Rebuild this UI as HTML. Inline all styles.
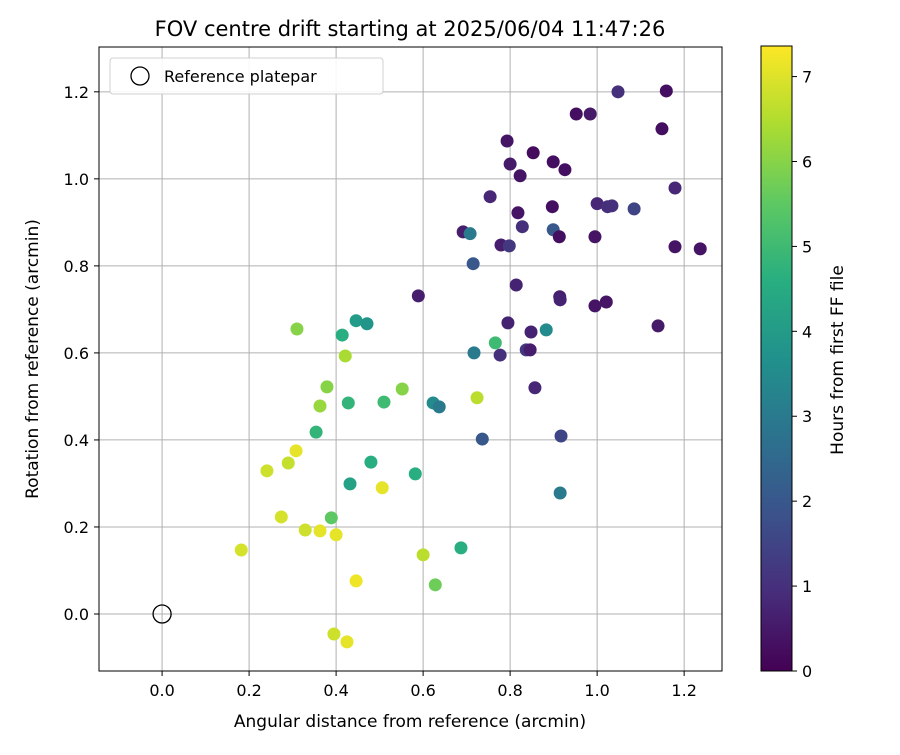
<!DOCTYPE html>
<html><head><meta charset="utf-8">
<style>
body{margin:0;background:#fff;}
svg text{font-family:"DejaVu Sans","Liberation Sans",sans-serif;fill:#000;}
</style></head>
<body>
<svg id="chart" width="900" height="750" xmlns="http://www.w3.org/2000/svg">
  <rect x="0" y="0" width="900" height="750" fill="#fff"/>
  <defs>
    <linearGradient id="vir" x1="0" y1="1" x2="0" y2="0">
      <stop offset="0" stop-color="#440154"/>
      <stop offset="0.125" stop-color="#472d7b"/>
      <stop offset="0.25" stop-color="#3b528b"/>
      <stop offset="0.375" stop-color="#2c728e"/>
      <stop offset="0.5" stop-color="#21918c"/>
      <stop offset="0.625" stop-color="#28ae80"/>
      <stop offset="0.75" stop-color="#5ec962"/>
      <stop offset="0.875" stop-color="#addc30"/>
      <stop offset="1" stop-color="#fde725"/>
    </linearGradient>
  </defs>
  <g id="grid"></g>
  <g id="points"></g>
  <rect x="99" y="47" width="623" height="624" fill="none" stroke="#000" stroke-width="1"/>
  <g id="xticks"></g>
  <g id="yticks"></g>
  <text x="410" y="36" font-size="21" text-anchor="middle">FOV centre drift starting at 2025/06/04 11:47:26</text>
  <text x="410" y="727" font-size="17" text-anchor="middle">Angular distance from reference (arcmin)</text>
  <text transform="translate(38,359) rotate(-90)" font-size="17" text-anchor="middle">Rotation from reference (arcmin)</text>
  <g>
    <rect x="110" y="58" width="273" height="36" rx="3" fill="#fff" stroke="#ccc" opacity="0.9"/>
    <circle cx="140" cy="76" r="9" fill="none" stroke="#000" stroke-width="1.3"/>
    <text x="164" y="82" font-size="16">Reference platepar</text>
  </g>
  <rect x="761" y="46" width="31" height="625" fill="url(#vir)" stroke="#000" stroke-width="1"/>
  <g id="cticks"></g>
  <text transform="translate(843,360) rotate(-90)" font-size="17" text-anchor="middle">Hours from first FF file</text>
</svg>
<script>
const xVals=[1.159,1.048,0.952,0.984,1.149,0.793,0.853,0.899,0.800,0.926,0.823,1.179,0.754,0.897,1.000,1.024,1.034,1.085,0.818,0.828,0.692,0.708,0.899,0.913,0.995,0.779,0.798,1.179,1.237,0.715,0.589,0.814,0.914,0.915,0.995,1.021,1.140,0.795,0.883,0.848,0.766,0.717,0.777,0.837,0.846,0.857,0.917,0.736,0.915,
0.310,0.414,0.446,0.471,0.421,0.379,0.428,0.363,0.552,0.510,0.623,0.637,0.724,0.354,0.480,0.432,0.582,0.506,0.308,0.241,0.290,0.274,0.329,0.363,0.389,0.400,0.182,0.687,0.600,0.446,0.628,0.395,0.425];
const yVals=[1.202,1.200,1.149,1.149,1.115,1.087,1.060,1.039,1.034,1.021,1.007,0.979,0.959,0.936,0.943,0.936,0.938,0.931,0.922,0.890,0.878,0.874,0.883,0.867,0.867,0.848,0.846,0.844,0.839,0.805,0.731,0.756,0.729,0.722,0.708,0.717,0.662,0.669,0.653,0.648,0.623,0.600,0.595,0.607,0.607,0.520,0.409,0.402,0.278,
0.655,0.641,0.674,0.667,0.593,0.522,0.485,0.478,0.517,0.487,0.485,0.476,0.497,0.418,0.349,0.299,0.322,0.290,0.375,0.329,0.347,0.223,0.193,0.191,0.221,0.182,0.147,0.152,0.136,0.076,0.067,-0.046,-0.064];
const hours=[0.3,1.0,0.3,0.5,0.3,0.4,0.2,0.3,0.5,0.3,0.4,0.8,0.8,0.3,0.8,1.0,1.0,1.5,0.4,1.0,0.6,3.0,2.0,0.3,0.4,0.6,1.2,0.4,0.4,2.0,0.6,0.7,0.6,0.7,0.4,0.4,0.5,0.7,3.5,0.7,5.0,3.0,1.0,1.2,0.6,0.8,1.5,2.0,3.0,
6.0,4.6,4.0,3.8,6.4,6.0,4.8,6.2,6.0,5.0,3.5,3.0,6.6,4.8,4.6,4.2,4.6,7.1,7.1,6.8,6.7,6.9,6.8,7.1,5.5,7.1,6.9,4.6,6.6,7.2,5.7,6.8,7.1];
const xTickVals=[0,0.2,0.4,0.6,0.8,1.0,1.2];
const yTickVals=[0,0.2,0.4,0.6,0.8,1.0,1.2];
const cTickVals=[0,1,2,3,4,5,6,7];
const xTickLabels=["0.0","0.2","0.4","0.6","0.8","1.0","1.2"];
const yTickLabels=["0.0","0.2","0.4","0.6","0.8","1.0","1.2"];

const X0=99,X1=722,Y0=47,Y1=671,XMIN=-0.145,XMAX=1.287,YMIN=-0.131,YMAX=1.303,CMAX=7.36;
const sx=v=>X0+(v-XMIN)/(XMAX-XMIN)*(X1-X0);
const sy=v=>Y1-(v-YMIN)/(YMAX-YMIN)*(Y1-Y0);
const sc=v=>671-v/CMAX*625;
const stops=[[68,1,84],[71,45,123],[59,82,139],[44,114,142],[33,145,140],[40,174,128],[94,201,98],[173,220,48],[253,231,37]];
function viridis(t){t=Math.max(0,Math.min(1,t))*8;const i=Math.min(7,Math.floor(t)),f=t-i;const a=stops[i],b=stops[i+1];
return `rgb(${a.map((c,k)=>Math.round(c+(b[k]-c)*f)).join(',')})`;}
const NS="http://www.w3.org/2000/svg";
function mk(tag,attrs,parent){const e=document.createElementNS(NS,tag);for(const k in attrs)e.setAttribute(k,attrs[k]);parent.appendChild(e);return e;}
const grid=document.getElementById('grid'),xt=document.getElementById('xticks'),yt=document.getElementById('yticks'),ct=document.getElementById('cticks'),pts=document.getElementById('points');
xTickVals.forEach((v,i)=>{const x=sx(v);
  const g=mk('line',{x1:x,x2:x,y1:Y0,y2:Y1,stroke:'#b0b0b0','stroke-width':1},grid);
  
  
  const t=mk('line',{x1:x,x2:x,y1:Y1,y2:Y1+5,stroke:'#000'},xt);
  
  
  const l=mk('text',{x:x,y:Y1+25,'font-size':16,'text-anchor':'middle'},xt);l.textContent=xTickLabels[i];
  
  
});
yTickVals.forEach((v,i)=>{const y=sy(v);
  const g=mk('line',{x1:X0,x2:X1,y1:y,y2:y,stroke:'#b0b0b0','stroke-width':1},grid);
  
  
  const t=mk('line',{x1:X0-5,x2:X0,y1:y,y2:y,stroke:'#000'},yt);
  
  
  const l=mk('text',{x:X0-10,y:y+6,'font-size':16,'text-anchor':'end'},yt);l.textContent=yTickLabels[i];
  
  
});
cTickVals.forEach(v=>{const y=sc(v);
  const t=mk('line',{x1:792,x2:797,y1:y,y2:y,stroke:'#000'},ct);
  
  
  const l=mk('text',{x:802,y:y+6,'font-size':16},ct);l.textContent=String(v);
  
  
});
xVals.forEach((v,i)=>{
  const c=mk('circle',{cx:sx(v),cy:sy(yVals[i]),r:6.5,fill:viridis(hours[i]/CMAX)},pts);
  
  
});
const ref=mk('circle',{cx:sx(0),cy:sy(0),r:9,fill:'none',stroke:'#000','stroke-width':1.3},pts);


</script>
</body></html>
